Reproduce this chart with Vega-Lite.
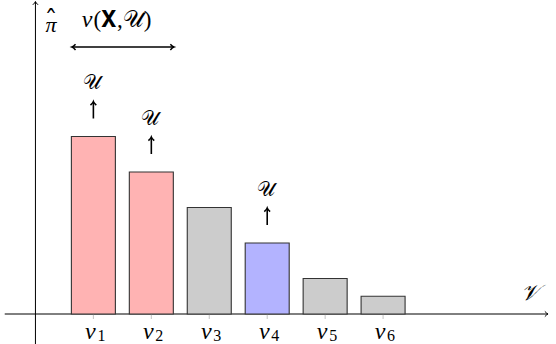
{
  "$schema": "https://vega.github.io/schema/vega-lite/v6.json",
  "width": 556,
  "height": 344,
  "autosize": {"type": "none"},
  "padding": 0,
  "config": {"view": {"stroke": null}},
  "datasets": {
    "bars": [
      {"name": "v1", "pos": 1, "idx": "1", "pi": 5, "set": "U"},
      {"name": "v2", "pos": 2, "idx": "2", "pi": 4, "set": "U"},
      {"name": "v3", "pos": 3, "idx": "3", "pi": 3, "set": "none"},
      {"name": "v4", "pos": 4, "idx": "4", "pi": 2, "set": "candidate"},
      {"name": "v5", "pos": 5, "idx": "5", "pi": 1, "set": "none"},
      {"name": "v6", "pos": 6, "idx": "6", "pi": 0.5, "set": "none"}
    ]
  },
  "layer": [
    {
      "data": {"values": [{}]},
      "mark": {"type": "rule", "color": "#000", "strokeWidth": 1},
      "encoding": {
        "x": {"datum": -0.53, "type": "quantitative", "scale": {"domain": [-0.5254, 8.898], "nice": false, "zero": false}, "axis": null},
        "x2": {"datum": 8.84},
        "y": {"datum": 0, "type": "quantitative", "scale": {"domain": [-0.845, 8.845], "nice": false, "zero": false}, "axis": null}
      }
    },
    {
      "data": {"values": [{}]},
      "mark": {"type": "rule", "color": "#000", "strokeWidth": 1},
      "encoding": {
        "x": {"datum": 0, "type": "quantitative", "scale": {"domain": [-0.5254, 8.898], "nice": false, "zero": false}, "axis": null},
        "y": {"datum": -0.85, "type": "quantitative", "scale": {"domain": [-0.845, 8.845], "nice": false, "zero": false}, "axis": null},
        "y2": {"datum": 8.8}
      }
    },
    {
      "data": {"values": [{"dir": 0, "ax": 8.847, "ay": 0}, {"dir": -90, "ax": 0, "ay": 8.8}]},
      "mark": {"type": "point", "shape": "M -1.6 -1.3 Q -0.6 -0.2 0 0 Q -0.6 0.2 -1.6 1.3", "filled": false, "stroke": "#000", "strokeWidth": 1, "size": 16, "opacity": 1},
      "encoding": {
        "x": {"field": "ax", "type": "quantitative", "scale": {"domain": [-0.5254, 8.898], "nice": false, "zero": false}, "axis": null},
        "y": {"field": "ay", "type": "quantitative", "scale": {"domain": [-0.845, 8.845], "nice": false, "zero": false}, "axis": null},
        "angle": {"field": "dir", "type": "quantitative", "scale": null}
      }
    },
    {
      "data": {"name": "bars"},
      "mark": {"type": "rule", "color": "#aaa", "strokeWidth": 0.7, "y2Offset": 5},
      "encoding": {
        "x": {"field": "pos", "type": "quantitative", "scale": {"domain": [-0.5254, 8.898], "nice": false, "zero": false}, "axis": null},
        "y": {"datum": 0, "type": "quantitative", "scale": {"domain": [-0.845, 8.845], "nice": false, "zero": false}, "axis": null},
        "y2": {"datum": 0}
      }
    },
    {
      "data": {"name": "bars"},
      "mark": {"type": "bar", "width": 44, "stroke": "#333", "strokeWidth": 1.1},
      "encoding": {
        "x": {"field": "pos", "type": "quantitative", "scale": {"domain": [-0.5254, 8.898], "nice": false, "zero": false}, "axis": null},
        "y": {"field": "pi", "type": "quantitative", "scale": {"domain": [-0.845, 8.845], "nice": false, "zero": false}, "axis": null},
        "y2": {"datum": 0},
        "color": {"field": "set", "type": "nominal", "scale": {"domain": ["U", "none", "candidate"], "range": ["#ffb3b3", "#cccccc", "#b3b3ff"]}, "legend": null}
      }
    },
    {
      "data": {"name": "bars"},
      "mark": {"type": "text", "text": "v", "font": "Liberation Serif", "fontStyle": "italic", "fontSize": 24, "baseline": "alphabetic", "dx": -3, "dy": 4},
      "encoding": {
        "x": {"field": "pos", "type": "quantitative", "scale": {"domain": [-0.5254, 8.898], "nice": false, "zero": false}, "axis": null},
        "y": {"datum": -0.6, "type": "quantitative", "scale": {"domain": [-0.845, 8.845], "nice": false, "zero": false}, "axis": null}
      }
    },
    {
      "data": {"name": "bars"},
      "mark": {"type": "text", "font": "Liberation Serif", "fontSize": 16, "baseline": "alphabetic", "dx": 8, "dy": 6},
      "encoding": {
        "x": {"field": "pos", "type": "quantitative", "scale": {"domain": [-0.5254, 8.898], "nice": false, "zero": false}, "axis": null},
        "y": {"datum": -0.6, "type": "quantitative", "scale": {"domain": [-0.845, 8.845], "nice": false, "zero": false}, "axis": null},
        "text": {"field": "idx"}
      }
    },
    {
      "data": {"name": "bars"},
      "transform": [{"filter": "datum.set != 'none'"}],
      "mark": {"type": "rule", "color": "#000", "strokeWidth": 1.6, "yOffset": -18, "y2Offset": -34},
      "encoding": {
        "x": {"field": "pos", "type": "quantitative", "scale": {"domain": [-0.5254, 8.898], "nice": false, "zero": false}, "axis": null},
        "y": {"field": "pi", "type": "quantitative", "scale": {"domain": [-0.845, 8.845], "nice": false, "zero": false}, "axis": null},
        "y2": {"field": "pi"}
      }
    },
    {
      "data": {"name": "bars"},
      "transform": [{"filter": "datum.set != 'none'"}],
      "mark": {"type": "point", "shape": "M -1.6 -1.3 Q -0.6 -0.2 0 0 Q -0.6 0.2 -1.6 1.3", "filled": false, "stroke": "#000", "strokeWidth": 1.5, "size": 20, "opacity": 1, "angle": -90, "yOffset": -35},
      "encoding": {
        "x": {"field": "pos", "type": "quantitative", "scale": {"domain": [-0.5254, 8.898], "nice": false, "zero": false}, "axis": null},
        "y": {"field": "pi", "type": "quantitative", "scale": {"domain": [-0.845, 8.845], "nice": false, "zero": false}, "axis": null}
      }
    },
    {
      "data": {"name": "bars"},
      "transform": [{"filter": "datum.set != 'none'"}],
      "mark": {"type": "text", "text": "𝒰", "font": "DejaVu Serif", "fontSize": 20, "baseline": "middle", "dx": -1, "dy": -53},
      "encoding": {
        "x": {"field": "pos", "type": "quantitative", "scale": {"domain": [-0.5254, 8.898], "nice": false, "zero": false}, "axis": null},
        "y": {"field": "pi", "type": "quantitative", "scale": {"domain": [-0.845, 8.845], "nice": false, "zero": false}, "axis": null}
      }
    },
    {
      "data": {"values": [{}]},
      "mark": {"type": "rule", "color": "#000", "strokeWidth": 1.6},
      "encoding": {
        "x": {"datum": 0.63, "type": "quantitative", "scale": {"domain": [-0.5254, 8.898], "nice": false, "zero": false}, "axis": null},
        "x2": {"datum": 2.39},
        "y": {"datum": 7.52, "type": "quantitative", "scale": {"domain": [-0.845, 8.845], "nice": false, "zero": false}, "axis": null}
      }
    },
    {
      "data": {"values": [{"dir": 0, "ax": 2.39}, {"dir": 180, "ax": 0.63}]},
      "mark": {"type": "point", "shape": "M -1.6 -1.3 Q -0.6 -0.2 0 0 Q -0.6 0.2 -1.6 1.3", "filled": false, "stroke": "#000", "strokeWidth": 1.5, "size": 20, "opacity": 1},
      "encoding": {
        "x": {"field": "ax", "type": "quantitative", "scale": {"domain": [-0.5254, 8.898], "nice": false, "zero": false}, "axis": null},
        "y": {"datum": 7.52, "type": "quantitative", "scale": {"domain": [-0.845, 8.845], "nice": false, "zero": false}, "axis": null},
        "angle": {"field": "dir", "type": "quantitative", "scale": null}
      }
    },
    {
      "data": {"values": [
        {"label": "π", "lx": 0.27, "ly": 8.13, "fs": 22},
        {"label": "𝒱", "lx": 8.54, "ly": 0.58, "fs": 22}
      ]},
      "mark": {"type": "text", "font": "Liberation Serif", "fontStyle": "italic", "baseline": "middle", "align": "center"},
      "encoding": {
        "x": {"field": "lx", "type": "quantitative", "scale": {"domain": [-0.5254, 8.898], "nice": false, "zero": false}, "axis": null},
        "y": {"field": "ly", "type": "quantitative", "scale": {"domain": [-0.845, 8.845], "nice": false, "zero": false}, "axis": null},
        "text": {"field": "label"},
        "size": {"field": "fs", "type": "quantitative", "scale": null}
      }
    },
    {
      "data": {"values": [{"label": "ˆ", "lx": 0.27, "ly": 8.13}]},
      "mark": {"type": "text", "font": "DejaVu Serif", "fontSize": 26, "baseline": "middle", "align": "center", "dy": -4, "scaleX": 1.4},
      "encoding": {
        "x": {"field": "lx", "type": "quantitative", "scale": {"domain": [-0.5254, 8.898], "nice": false, "zero": false}, "axis": null},
        "y": {"field": "ly", "type": "quantitative", "scale": {"domain": [-0.845, 8.845], "nice": false, "zero": false}, "axis": null},
        "text": {"field": "label"}
      }
    },
    {
      "data": {"values": [{"label": "ν", "lx": 0.983, "ly": 8.28}]},
      "mark": {"type": "text", "font": "Liberation Serif", "fontStyle": "italic", "fontSize": 24, "baseline": "middle", "align": "right", "dx": 0},
      "encoding": {
        "x": {"field": "lx", "type": "quantitative", "scale": {"domain": [-0.5254, 8.898], "nice": false, "zero": false}, "axis": null},
        "y": {"field": "ly", "type": "quantitative", "scale": {"domain": [-0.845, 8.845], "nice": false, "zero": false}, "axis": null},
        "text": {"field": "label"}
      }
    },
    {
      "data": {"values": [{"label": "(𝐗,𝒰)", "lx": 0.983, "ly": 8.28}]},
      "mark": {"type": "text", "font": "Liberation Serif", "fontSize": 23, "baseline": "middle", "align": "left", "dx": 1},
      "encoding": {
        "x": {"field": "lx", "type": "quantitative", "scale": {"domain": [-0.5254, 8.898], "nice": false, "zero": false}, "axis": null},
        "y": {"field": "ly", "type": "quantitative", "scale": {"domain": [-0.845, 8.845], "nice": false, "zero": false}, "axis": null},
        "text": {"field": "label"}
      }
    }
  ]
}
